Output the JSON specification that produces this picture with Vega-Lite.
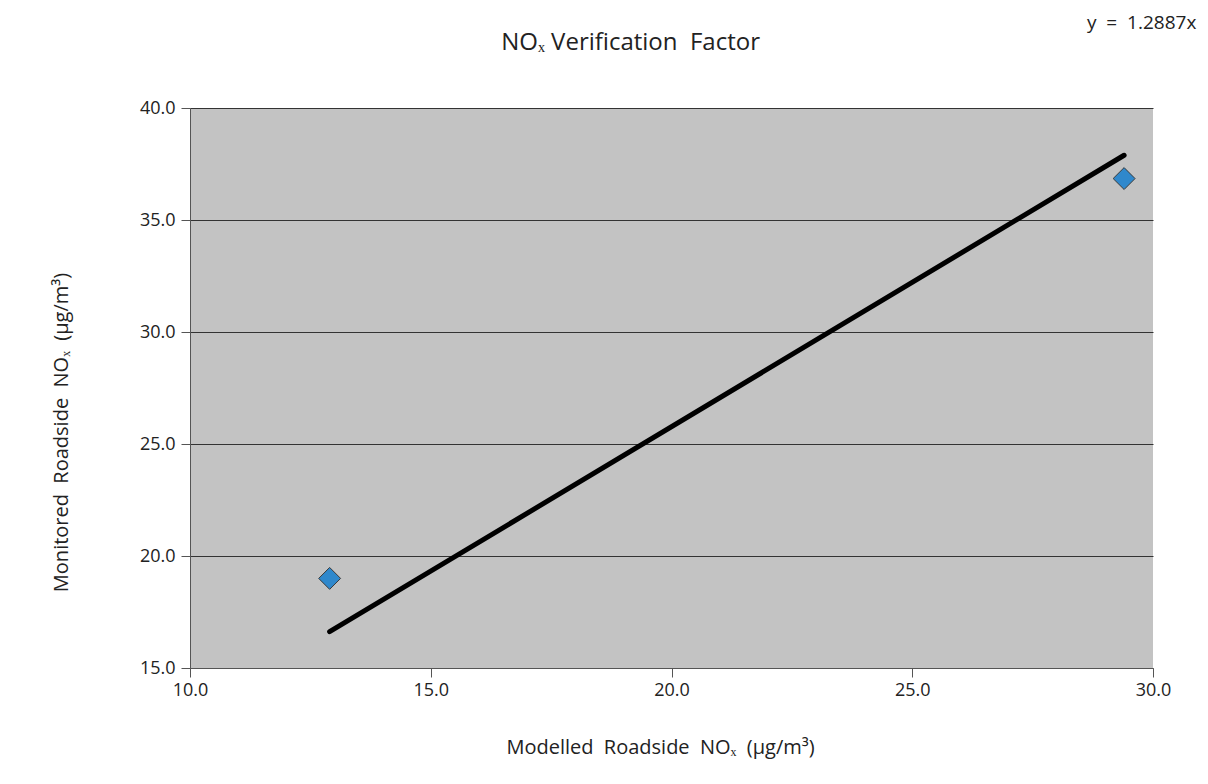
{
  "$schema": "https://vega.github.io/schema/vega-lite/v6.json",
  "width": 963,
  "height": 560,
  "autosize": {"type": "none"},
  "padding": {"left": 190, "top": 108, "right": 55, "bottom": 116},
  "background": "white",
  "config": {
    "font": "Open Sans",
    "view": {"fill": "#c3c3c3", "stroke": null},
    "axis": {
      "labelFont": "Open Sans",
      "titleFont": "Open Sans",
      "labelFontSize": 18,
      "titleFontSize": 20,
      "labelColor": "#222222",
      "titleColor": "#222222",
      "titleFontWeight": "normal",
      "domainColor": "#555555",
      "tickColor": "#555555",
      "tickSize": 9,
      "labelFlush": false
    }
  },
  "datasets": {
    "points": [
      {"modelled": 12.9, "monitored": 19.0},
      {"modelled": 29.4, "monitored": 36.85}
    ],
    "trend": [
      {"modelled": 12.9, "monitored": 16.62},
      {"modelled": 29.4, "monitored": 37.89}
    ],
    "label": [
      {"modelled": 30.9, "monitored": 43.8, "text": "y\u00a0 =\u00a0 1.2887x"}
    ],
    "heading": [
      {"modelled": 19.15, "monitored": 42.9, "text": "NOₓ Verification\u00a0 Factor"}
    ]
  },
  "layer": [
    {
      "data": {"name": "trend"},
      "mark": {"type": "line", "color": "#000000", "strokeWidth": 5, "strokeCap": "round"},
      "encoding": {
        "x": {
          "field": "modelled",
          "type": "quantitative",
          "scale": {"domain": [10, 30], "nice": false, "zero": false},
          "axis": {
            "title": "Modelled\u00a0 Roadside\u00a0 NOₓ\u00a0 (µg/m³)",
            "format": ".1f",
            "values": [10, 15, 20, 25, 30],
            "grid": false,
            "labelPadding": 4,
            "titlePadding": 38,
            "titleX": 470
          }
        },
        "y": {
          "field": "monitored",
          "type": "quantitative",
          "scale": {"domain": [15, 40], "nice": false, "zero": false},
          "axis": {
            "title": "Monitored\u00a0 Roadside\u00a0 NOₓ\u00a0 (µg/m³)",
            "format": ".1f",
            "values": [15, 20, 25, 30, 35, 40],
            "grid": true,
            "gridColor": "#333333",
            "gridOpacity": 1,
            "gridWidth": 1,
            "labelPadding": 6,
            "titlePadding": 68,
            "titleY": 324
          }
        }
      }
    },
    {
      "data": {"name": "points"},
      "mark": {"type": "point", "shape": "diamond", "filled": true, "size": 480, "fill": "#2f88cc", "stroke": "#3a3a3a", "strokeWidth": 1, "opacity": 1},
      "encoding": {
        "x": {"field": "modelled", "type": "quantitative"},
        "y": {"field": "monitored", "type": "quantitative"}
      }
    },
    {
      "data": {"name": "label"},
      "mark": {"type": "text", "align": "right", "baseline": "middle", "fontSize": 19, "font": "Open Sans", "color": "#222222", "clip": false},
      "encoding": {
        "x": {"field": "modelled", "type": "quantitative"},
        "y": {"field": "monitored", "type": "quantitative"},
        "text": {"field": "text"}
      }
    },
    {
      "data": {"name": "heading"},
      "mark": {"type": "text", "align": "center", "baseline": "middle", "fontSize": 24, "font": "Open Sans", "color": "#222222", "clip": false},
      "encoding": {
        "x": {"field": "modelled", "type": "quantitative"},
        "y": {"field": "monitored", "type": "quantitative"},
        "text": {"field": "text"}
      }
    }
  ]
}
